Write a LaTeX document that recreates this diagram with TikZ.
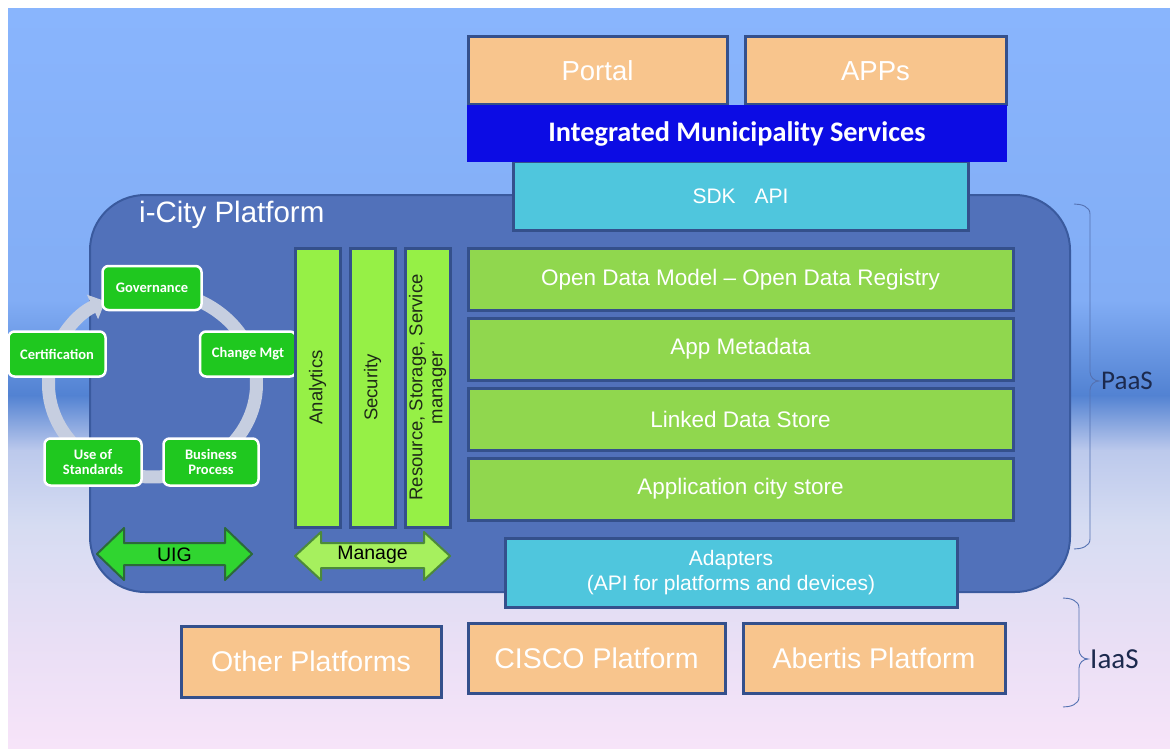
\documentclass[tikz,border=0pt]{standalone}
\usepackage{fontspec}
\setmainfont{Liberation Sans}
\newfontfamily\calfont{Carlito}
\usetikzlibrary{arrows.meta}
\definecolor{bgA}{HTML}{89B5FD}
\definecolor{bgB}{HTML}{82ADF5}
\definecolor{bgC}{HTML}{5282D2}
\definecolor{bgD}{HTML}{BCC9EC}
\definecolor{bgE}{HTML}{D6DCF2}
\definecolor{bgF}{HTML}{E9DFF5}
\definecolor{bgG}{HTML}{F7E4F9}
\definecolor{platfill}{HTML}{5171BA}
\definecolor{platline}{HTML}{3A5A9E}
\definecolor{bd}{HTML}{34508C}
\definecolor{peach}{HTML}{F8C58D}
\definecolor{imsblue}{HTML}{0C0CE4}
\definecolor{cyanc}{HTML}{4FC6DD}
\definecolor{lime}{HTML}{96F046}
\definecolor{hgreen}{HTML}{90D74E}
\definecolor{vtext}{HTML}{1E2A18}
\definecolor{cycg}{HTML}{1FC81F}
\definecolor{ringc}{HTML}{C6CEE0}
\definecolor{uigfill}{HTML}{30D530}
\definecolor{uigline}{HTML}{2B6A3A}
\definecolor{manfill}{HTML}{A6F05E}
\definecolor{manline}{HTML}{4C8A3A}
\definecolor{brc}{HTML}{5572B2}
\definecolor{lbl}{HTML}{1C2A4E}
\begin{document}
\begin{tikzpicture}[x=1pt,y=1pt,
  pbox/.style={draw=bd, line width=3pt, fill=peach, text=white, inner sep=0pt},
  cbox/.style={draw=bd, line width=3pt, fill=cyanc, text=white, inner sep=0pt, align=center},
  vbar/.style={draw=bd, line width=3pt, fill=lime, rotate=90, minimum width=279pt, minimum height=45pt, text=vtext, inner sep=0pt, align=center, font=\fontsize{18.5}{20}\selectfont},
  hbar/.style={draw=bd, line width=3pt, fill=hgreen, minimum width=545pt, minimum height=62pt, text=white, inner sep=0pt, font=\fontsize{22.5}{26}\selectfont},
  cyc/.style={draw=white, line width=2.5pt, fill=cycg, rounded corners=6pt, text=white, inner sep=0pt, align=center, font=\calfont\bfseries\fontsize{14.5}{15}\selectfont},
  ring/.style={draw=ringc, line width=13pt, -{Triangle[width=26pt,length=14pt]}},
  brace/.style={draw=brc, line width=0.9pt},
  arrlbl/.style={text=black, inner sep=0pt, font=\fontsize{19.5}{22}\selectfont}
]
\useasboundingbox (0,0) rectangle (1170,-749);
\fill[white] (0,0) rectangle (1170,-749);
% background gradient
\shade[top color=bgA,bottom color=bgB] (8,-9) rectangle (1170,-300.5);
\shade[top color=bgB,bottom color=bgC] (8,-300) rectangle (1170,-395.5);
\shade[top color=bgC,bottom color=bgD] (8,-395) rectangle (1170,-450.5);
\shade[top color=bgD,bottom color=bgE] (8,-450) rectangle (1170,-525.5);
\shade[top color=bgE,bottom color=bgF] (8,-525) rectangle (1170,-640.5);
\shade[top color=bgF,bottom color=bgG] (8,-640) rectangle (1170,-749);

% platform
\node[draw=platline, line width=2pt, fill=platfill, rounded corners=55pt, minimum width=980pt, minimum height=397pt, inner sep=0pt] (plat) at (580,-393.5) {};
\node[anchor=base west, text=white, inner sep=0pt, font=\fontsize{29.5}{32}\selectfont] (plattitle) at (139,-222) {i-City Platform};

% top stack
\node[cbox, minimum width=455pt, minimum height=68pt, font=\fontsize{21}{25}\selectfont] (sdk) at (740.5,-196) {SDK\hspace{0.9em}API};
\node[pbox, minimum width=259pt, minimum height=68pt, font=\fontsize{27.5}{30}\selectfont] (portal) at (597.5,-71) {Portal};
\node[pbox, minimum width=261pt, minimum height=68pt, font=\fontsize{27.5}{30}\selectfont] (apps) at (875.5,-71) {APPs};
\node[fill=imsblue, minimum width=540pt, minimum height=57pt, inner sep=0pt, text=white, font=\calfont\bfseries\fontsize{28.3}{32}\selectfont] (ims) at (737,-133.5) {Integrated Municipality Services};

% cycle ring
\coordinate (cc) at (152.5,-384);
\draw[ring] (cc) ++(80:104 and 93) arc[start angle=80, end angle=-243, x radius=104, y radius=93];
\node[cyc, minimum width=99pt, minimum height=44pt] (gov) at (152,-288) {Governance};
\node[cyc, minimum width=96pt, minimum height=45pt] (chg) at (248,-354) {Change Mgt};
\node[cyc, minimum width=97pt, minimum height=45pt] (cert) at (57,-354) {Certification};
\node[cyc, minimum width=97pt, minimum height=47pt] (use) at (93,-462) {Use of\\Standards};
\node[cyc, minimum width=95pt, minimum height=47pt] (bus) at (211,-462) {Business\\Process};

% vertical bars
\node[vbar] (ana) at (317.5,-387.5) {Analytics};
\node[vbar] (sec) at (372.5,-387.5) {Security};
\node[vbar] (res) at (427.5,-387.5) {Resource, Storage, Service\\manager};

% horizontal bars
\node[hbar] (odm) at (740.5,-279.5) {Open Data Model -- Open Data Registry};
\node[hbar] (meta) at (740.5,-349) {App Metadata};
\node[hbar] (lds) at (740.5,-419) {Linked Data Store};
\node[hbar] (acs) at (740.5,-489) {Application city store};

% double arrows
\filldraw[fill=uigfill, draw=uigline, line width=2pt, line join=round]
  (97,-554) -- (124,-528) -- (124,-543) -- (225,-543) -- (225,-528) -- (252,-554)
  -- (225,-580) -- (225,-565) -- (124,-565) -- (124,-580) -- cycle;
\node[arrlbl] (uig) at (174.5,-555) {UIG};
\filldraw[fill=manfill, draw=manline, line width=2pt, line join=round]
  (295,-556) -- (321,-532) -- (321,-543) -- (424,-543) -- (424,-532) -- (450,-556)
  -- (424,-580) -- (424,-568) -- (321,-568) -- (321,-580) -- cycle;
\node[arrlbl] (manage) at (372.5,-555) {Manage};

% adapters
\node[cbox, minimum width=452pt, minimum height=69pt, font=\fontsize{21}{25}\selectfont] (adapt) at (731,-572.5) {Adapters\\(API for platforms and devices)};

% bottom platforms
\node[pbox, minimum width=260pt, minimum height=71pt, font=\fontsize{28.5}{32}\selectfont] (other) at (311,-661.5) {Other Platforms};
\node[pbox, minimum width=257pt, minimum height=70pt, font=\fontsize{28.5}{32}\selectfont] (cisco) at (596.5,-658) {CISCO Platform};
\node[pbox, minimum width=262pt, minimum height=70pt, font=\fontsize{28.5}{32}\selectfont] (abertis) at (874,-658) {Abertis Platform};

% braces
\draw[brace] (1074,-204) to[out=0,in=90] (1090,-214) -- (1090,-372) to[out=-90,in=180] (1099,-381)
  to[out=180,in=90] (1090,-390) -- (1090,-539) to[out=-90,in=0] (1074,-549);
\draw[brace] (1063,-598) to[out=0,in=90] (1079,-608) -- (1079,-650) to[out=-90,in=180] (1088,-659)
  to[out=180,in=90] (1079,-668) -- (1079,-697) to[out=-90,in=0] (1063,-707);
\node[anchor=west, text=lbl, inner sep=0pt, font=\calfont\fontsize{27}{30}\selectfont] (paas) at (1101,-381) {PaaS};
\node[anchor=west, text=lbl, inner sep=0pt, font=\calfont\fontsize{29}{32}\selectfont] (iaas) at (1090,-659) {IaaS};
\end{tikzpicture}
\end{document}
